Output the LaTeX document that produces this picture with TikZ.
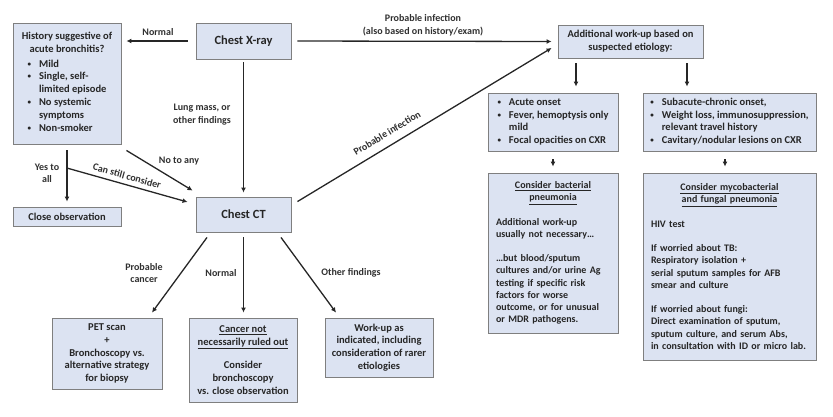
\documentclass[tikz,border=0pt]{standalone}
\usepackage{fontspec}
\setmainfont{Carlito}
\usetikzlibrary{arrows.meta,calc}
\definecolor{boxfill}{HTML}{DCE3F2}
\definecolor{boxline}{HTML}{7F7F7F}
\definecolor{ink}{HTML}{262626}
\definecolor{lblink}{HTML}{303030}
\newcommand{\ulhead}[1]{\makebox[\linewidth]{\underline{#1}}}
\newcommand{\bul}{\raisebox{1pt}{\fontsize{7}{7}\selectfont\textbullet}}
\tikzset{
  box/.style={draw=boxline,fill=boxfill,line width=0.9pt,text=ink,align=center,inner sep=2pt,font=\fontsize{10.5}{12.8}\selectfont\bfseries},
  bigbox/.style={box,font=\fontsize{12.5}{15}\selectfont\bfseries},
  txtbox/.style={box,align=left,inner xsep=8pt,font=\fontsize{10}{12.2}\selectfont\bfseries},
  lbl/.style={text=lblink,align=center,inner sep=1pt,font=\fontsize{10}{12.5}\selectfont\bfseries},
  arr/.style={-{Latex[length=5pt,width=5pt]},line width=1.3pt,draw=ink},
}
\begin{document}
\begin{tikzpicture}[x=1pt,y=-1pt]
    \useasboundingbox (0,0) rectangle (833,416);
    \node[bigbox,minimum width=95pt,minimum height=36pt] (xray) at (243.5,41) {Chest X-ray};
    \node[bigbox,minimum width=95pt,minimum height=35pt] (ct) at (243.5,214.5) {Chest CT};
    \node[box,minimum width=108pt,minimum height=121pt] (hist) at (67,83.5) {History suggestive of\\acute bronchitis?\\[5pt]
        \begin{tabular}{@{}l@{\hspace{8pt}}l@{}}
        \bul & Mild\\
        \bul & Single, self-\\
             & limited episode\\
        \bul & No systemic\\
             & symptoms\\
        \bul & Non-smoker
        \end{tabular}};
    \node[box,minimum width=108pt,minimum height=19pt] (obs) at (67,216.5) {Close observation};
    \node[box,minimum width=110pt,minimum height=71pt] (pet) at (107,353.5) {PET scan\\+\\Bronchoscopy vs.\\alternative strategy\\for biopsy};
    \node[box,minimum width=108pt,minimum height=84pt] (nro) at (243,360) {\underline{Cancer not}\\\underline{necessarily ruled out}\\[10pt]Consider\\bronchoscopy\\vs. close observation};
    \node[box,minimum width=108pt,minimum height=59pt] (wku) at (379,347.5) {Work-up as\\indicated, including\\consideration of rarer\\etiologies};
    \node[box,minimum width=145pt,minimum height=33pt] (add) at (630.5,41.5) {Additional work-up based on\\suspected etiology:};
    \node[box,minimum width=130pt,minimum height=58pt] (acu) at (553,122) {%
        \begin{tabular}{@{}l@{\hspace{8pt}}l@{}}
        \bul & Acute onset\\
        \bul & Fever, hemoptysis only\\
             & mild\\
        \bul & Focal opacities on CXR
        \end{tabular}};
    \node[box,minimum width=173pt,minimum height=58pt] (sub) at (729.5,122) {%
        \begin{tabular}{@{}l@{\hspace{8pt}}l@{}}
        \bul & Subacute-chronic onset,\\
        \bul & Weight loss, immunosuppression,\\
             & relevant travel history\\
        \bul & Cavitary/nodular lesions on CXR
        \end{tabular}};
    \node[txtbox,text width=114pt,minimum height=160pt] (bac) at (553,253) {\ulhead{Consider bacterial}\\\ulhead{pneumonia}\\[12.2pt]
        Additional work-up\\usually not necessary\dots\\[12.2pt]
        \dots but blood/sputum\\cultures and/or urine Ag\\testing if specific risk\\factors for worse\\outcome, or for unusual\\or MDR pathogens.};
    \node[txtbox,text width=157pt,minimum height=187pt] (myc) at (729.5,266.5) {\ulhead{Consider mycobacterial}\\\ulhead{and fungal pneumonia}\\[12.2pt]
        HIV test\\[12.2pt]
        If worried about TB:\\Respiratory isolation +\\serial sputum samples for AFB\\smear and culture\\[12.2pt]
        If worried about fungi:\\Direct examination of sputum,\\sputum culture, and serum Abs,\\in consultation with ID or micro lab.};
    \coordinate (split) at ($(hist.south)!.38!(obs.north)$);
    \draw[arr,shorten <=8pt,shorten >=5pt] (xray.west) -- (hist.east |- xray.west);
    \draw[arr,shorten <=3pt,shorten >=4pt] (xray.south) -- (ct.north);
    \draw[arr,shorten <=6pt,shorten >=6pt] (xray.east) -- (add.west);
    \draw[arr] ([xshift=6pt,yshift=-5pt]ct.north east) -- ([xshift=-6pt,yshift=-6.5pt]add.west);
    \draw[arr] ([xshift=5pt,yshift=-6pt]hist.south east) -- ([xshift=-3pt,yshift=6pt]ct.north west);
    \draw[arr,shorten <=6pt,shorten >=5pt] (hist.south) -- (obs.north);
    \draw[arr] (split) -- ([xshift=-8pt,yshift=12.5pt]ct.west);
    \draw[arr] ([xshift=-36.5pt,yshift=-5pt]ct.south) -- ([xshift=45pt,yshift=5pt]pet.north);
    \draw[arr,shorten <=5pt,shorten >=5pt] (ct.south) -- (ct.south |- nro.north);
    \draw[arr] ([xshift=37.5pt,yshift=-5pt]ct.south) -- ([xshift=-43pt,yshift=5pt]wku.north);
    \draw[arr] ([xshift=-54.5pt,yshift=-5pt]add.south) -- ([xshift=23pt,yshift=6pt]acu.north);
    \draw[arr] ([xshift=56.5pt,yshift=-5pt]add.south) -- ([xshift=-42.5pt,yshift=6pt]sub.north);
    \draw[arr,shorten <=8pt,shorten >=6pt] (acu.south) -- (bac.north);
    \draw[arr] ([xshift=-4.5pt,yshift=-8pt]sub.south) -- ([xshift=-4.5pt,yshift=6pt]myc.north);
    \node[lbl] (lnormal) at (158,32) {Normal};
    \node[lbl] (llung) at (202,114.5) {Lung mass, or\\other findings};
    \node[lbl] (linf) at (423,25.5) {Probable infection\\(also based on history/exam)};
    \node[lbl,rotate=31] (linfct) at (387,133) {Probable infection};
    \node[lbl] (lyes) at (47,173.5) {Yes to\\all};
    \node[lbl,rotate=-15.7] (lcan) at (127,176) {Can still consider};
    \node[lbl] (lnoany) at (179,161) {No to any};
    \node[lbl] (lcancer) at (144,273) {Probable\\cancer};
    \node[lbl] (lctnormal) at (221,273) {Normal};
    \node[lbl] (lother) at (351,273) {Other findings};
\end{tikzpicture}
\end{document}
